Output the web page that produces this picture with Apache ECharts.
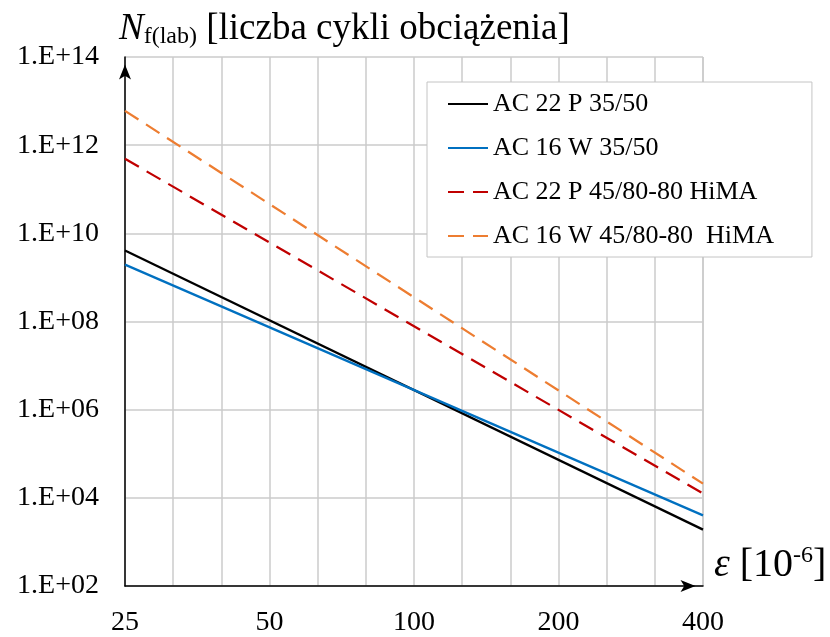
<!DOCTYPE html>
<html>
<head>
<meta charset="utf-8">
<script src="https://cdn.jsdelivr.net/npm/echarts@6/dist/echarts.min.js"></script>
<style>html,body{margin:0;padding:0;background:#fff}#c{width:830px;height:637px}</style>
</head>
<body>
<div id="c"></div>
<script>
// strain epsilon [10^-6]
var strainX = [25, 400];
// labelled strain ticks
var strainTicks = [25, 50, 100, 200, 400];
// fatigue life N_f(lab) at the end points
var acp22_3550 = [4.1e9, 1.9e3];
var acw16_3550 = [1.95e9, 4.0e3];
var acp22_hima = [4.9e11, 1.25e4];
var acw16_hima = [6.0e12, 2.1e4];
var seriesNames = ['AC 22 P 35/50', 'AC 16 W 35/50', 'AC 22 P 45/80-80 HiMA', 'AC 16 W 45/80-80  HiMA'];
var seriesValues = [acp22_3550, acw16_3550, acp22_hima, acw16_hima];
var seriesColors = ['#000000', '#0070C0', '#C00000', '#ED7D31'];
var seriesDashed = [false, false, true, true];

var FONT = 'Liberation Serif';
function pair(xs, ys) { return xs.map(function (x, i) { return [x, ys[i]]; }); }

var chart = echarts.init(document.getElementById('c'), null, { renderer: 'canvas' });
var series = seriesNames.map(function (n, i) {
  return {
    name: n, type: 'line', data: pair(strainX, seriesValues[i]),
    symbol: 'none', showSymbol: false, silent: true,
    lineStyle: { color: seriesColors[i], width: 2.25, type: seriesDashed[i] ? [16, 9] : 'solid' },
    itemStyle: { color: seriesColors[i] }
  };
});

chart.setOption({
  animation: false,
  backgroundColor: '#ffffff',
  title: [
    {
      text: '{n|N}{s|f(lab)}{t| [liczba cykli obciążenia]}',
      left: 119, top: 9, padding: 0,
      textStyle: {
        fontWeight: 'normal',
        rich: {
          n: { fontFamily: FONT, fontStyle: 'italic', fontWeight: 'normal', fontSize: 37, color: '#000' },
          s: { fontFamily: FONT, fontWeight: 'normal', fontSize: 24, color: '#000', padding: [16, 0, 0, 0] },
          t: { fontFamily: FONT, fontWeight: 'normal', fontSize: 37, color: '#000' }
        }
      }
    },
    {
      text: '{e|ε}  {t|[10}{p|-6}{t|]}',
      left: 714, top: 544, padding: 0,
      textStyle: {
        fontWeight: 'normal',
        rich: {
          e: { fontFamily: FONT, fontStyle: 'italic', fontWeight: 'normal', fontSize: 40, color: '#000' },
          t: { fontFamily: FONT, fontWeight: 'normal', fontSize: 40, color: '#000' },
          p: { fontFamily: FONT, fontWeight: 'normal', fontSize: 24, color: '#000', padding: [0, 0, 18, 0] }
        }
      }
    }
  ],
  legend: {
    orient: 'vertical', left: 427, top: 82,
    padding: [9, 38, 8, 20],
    backgroundColor: '#ffffff', borderColor: '#c4c4c4', borderWidth: 1,
    itemWidth: 40, itemHeight: 14, itemGap: 18,
    itemStyle: { opacity: 0 },
    textStyle: { fontFamily: FONT, fontSize: 26, color: '#000', lineHeight: 26 },
    data: seriesNames
  },
  grid: { left: 125, right: 127, top: 57, bottom: 49, containLabel: false },
  xAxis: {
    // log base 2^(1/3): one split line every third of an octave
    type: 'log', logBase: Math.pow(2, 1 / 3), min: strainTicks[0], max: strainTicks[strainTicks.length - 1], interval: 1,
    axisLine: { show: true, lineStyle: { color: '#000', width: 1.5 }, symbol: ['none', 'arrow'], symbolSize: [9, 15], symbolOffset: [0, -7.5] },
    axisTick: { show: false },
    splitLine: { show: true, lineStyle: { color: '#cbcbcb', width: 1.5 } },
    axisLabel: { fontFamily: FONT, fontSize: 28, color: '#000', margin: 23, showMinLabel: true, showMaxLabel: true, hideOverlap: false,
      formatter: function (v) {
        for (var i = 0; i < strainTicks.length; i++) {
          if (Math.abs(Math.log(v / strainTicks[i])) < 0.02) return String(strainTicks[i]);
        }
        return '';
      } }
  },
  yAxis: {
    type: 'log', logBase: 10, min: 1e2, max: 1e14, interval: 2,
    axisLine: { show: true, lineStyle: { color: '#000', width: 1.5 }, symbol: ['none', 'arrow'], symbolSize: [9, 15], symbolOffset: [0, -7.5] },
    axisTick: { show: false },
    splitLine: { show: true, lineStyle: { color: '#cbcbcb', width: 1.5 } },
    axisLabel: { fontFamily: FONT, fontSize: 28, color: '#000', margin: 26,
      formatter: function (v) { var e = Math.round(Math.log10(v)); return '1.E+' + (e < 10 ? '0' + e : String(e)); } }
  },
  series: series
});
</script>
</body>
</html>
